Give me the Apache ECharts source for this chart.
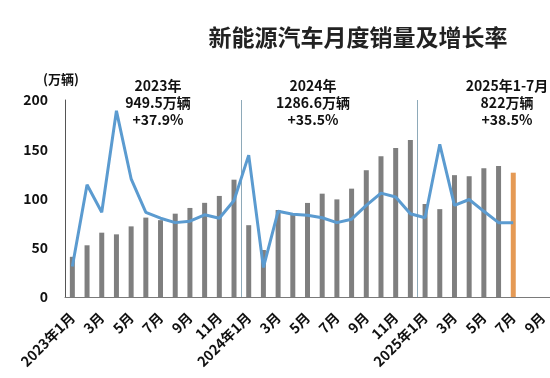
<!DOCTYPE html>
<html>
<head>
<meta charset="utf-8">
<script src="https://cdn.jsdelivr.net/npm/echarts@6/dist/echarts.min.js"></script>
<style>html,body{margin:0;padding:0;background:#fff;}#c{width:550px;height:378px;}</style>
</head>
<body>
<div id="c"></div>
<script>
var categories = ["2023年1月","2月","3月","4月","5月","6月","7月","8月","9月","10月","11月","12月",
  "2024年1月","2月","3月","4月","5月","6月","7月","8月","9月","10月","11月","12月",
  "2025年1月","2月","3月","4月","5月","6月","7月","8月","9月"];
var sales = [40.8,52.5,65.3,63.6,71.7,80.6,78.0,84.6,90.4,95.6,102.6,119.1,
  72.9,47.7,88.3,85.0,95.5,104.9,99.1,110.0,128.7,143.0,151.2,159.5,
  94.4,89.2,123.7,122.6,130.7,132.9,126.2];
var growth = [31,114,86,189,120,86,80,75.5,77,83.5,80,98,
  144,30,87,84,83,80.5,75.5,79,93,105.5,101.5,84.5,
  80.5,155,93,99,87,75.5,75.5];
var yTicks = [0,50,100,150,200];
var notes = [
  {x:158, lines:["2023年","949.5万辆","+37.9%"]},
  {x:313, lines:["2024年","1286.6万辆","+35.5%"]},
  {x:507, lines:["2025年1-7月","822万辆","+38.5%"]}
];
var FONT = '"Noto Sans CJK SC","Noto Sans",sans-serif';
var chart = echarts.init(document.getElementById('c'));
var barData = sales.map(function(v,i){
  return i === sales.length-1 ? {value:v, itemStyle:{color:'#e59a55'}} : v;
});
var graphics = notes.map(function(n){
  return {type:'text', x:n.x, y:77, z:10,
    style:{text:n.lines.join('\n'), align:'center', verticalAlign:'top', font:'bold 14px '+FONT, lineHeight:17, fill:'#111'}};
});
chart.setOption({
  animation:false,
  title:{text:'新能源汽车月度销量及增长率', left:353, top:21, textAlign:'center',
    textStyle:{fontFamily:FONT, fontWeight:'bold', fontSize:23, color:'#222'}},
  graphic:graphics,
  grid:{left:65, right:-6, top:100, bottom:81, containLabel:false},
  xAxis:{type:'category', data:categories, boundaryGap:true,
    axisLine:{lineStyle:{color:'#7a7a7a', width:1}},
    axisTick:{show:false},
    axisLabel:{interval:1, rotate:45, margin:18, color:'#111', fontFamily:FONT, fontWeight:'bold', fontSize:14},
    splitLine:{show:true, interval:function(i){return i===12||i===24;}, lineStyle:{color:'#8eaab9', width:1}}
  },
  yAxis:{type:'value', min:0, max:200, interval:50, name:'(万辆)', nameLocation:'end', nameGap:14,
    nameTextStyle:{fontFamily:FONT, fontWeight:'bold', fontSize:13, color:'#111', align:'center', padding:[0,0,0,-8]},
    axisLine:{show:true, lineStyle:{color:'#555', width:1}},
    axisTick:{show:false}, splitLine:{show:false},
    axisLabel:{margin:17, color:'#111', fontFamily:FONT, fontWeight:'bold', fontSize:14,
      formatter:function(v){return yTicks.indexOf(v)>=0?String(v):'';}}
  },
  series:[
    {type:'bar', data:barData, barWidth:5, itemStyle:{color:'#7f7f7f'}, z:2},
    {type:'line', data:growth, symbol:'none', lineStyle:{color:'#5b9bd0', width:3}, itemStyle:{color:'#5b9bd0'}, z:3}
  ]
});
</script>
</body>
</html>
